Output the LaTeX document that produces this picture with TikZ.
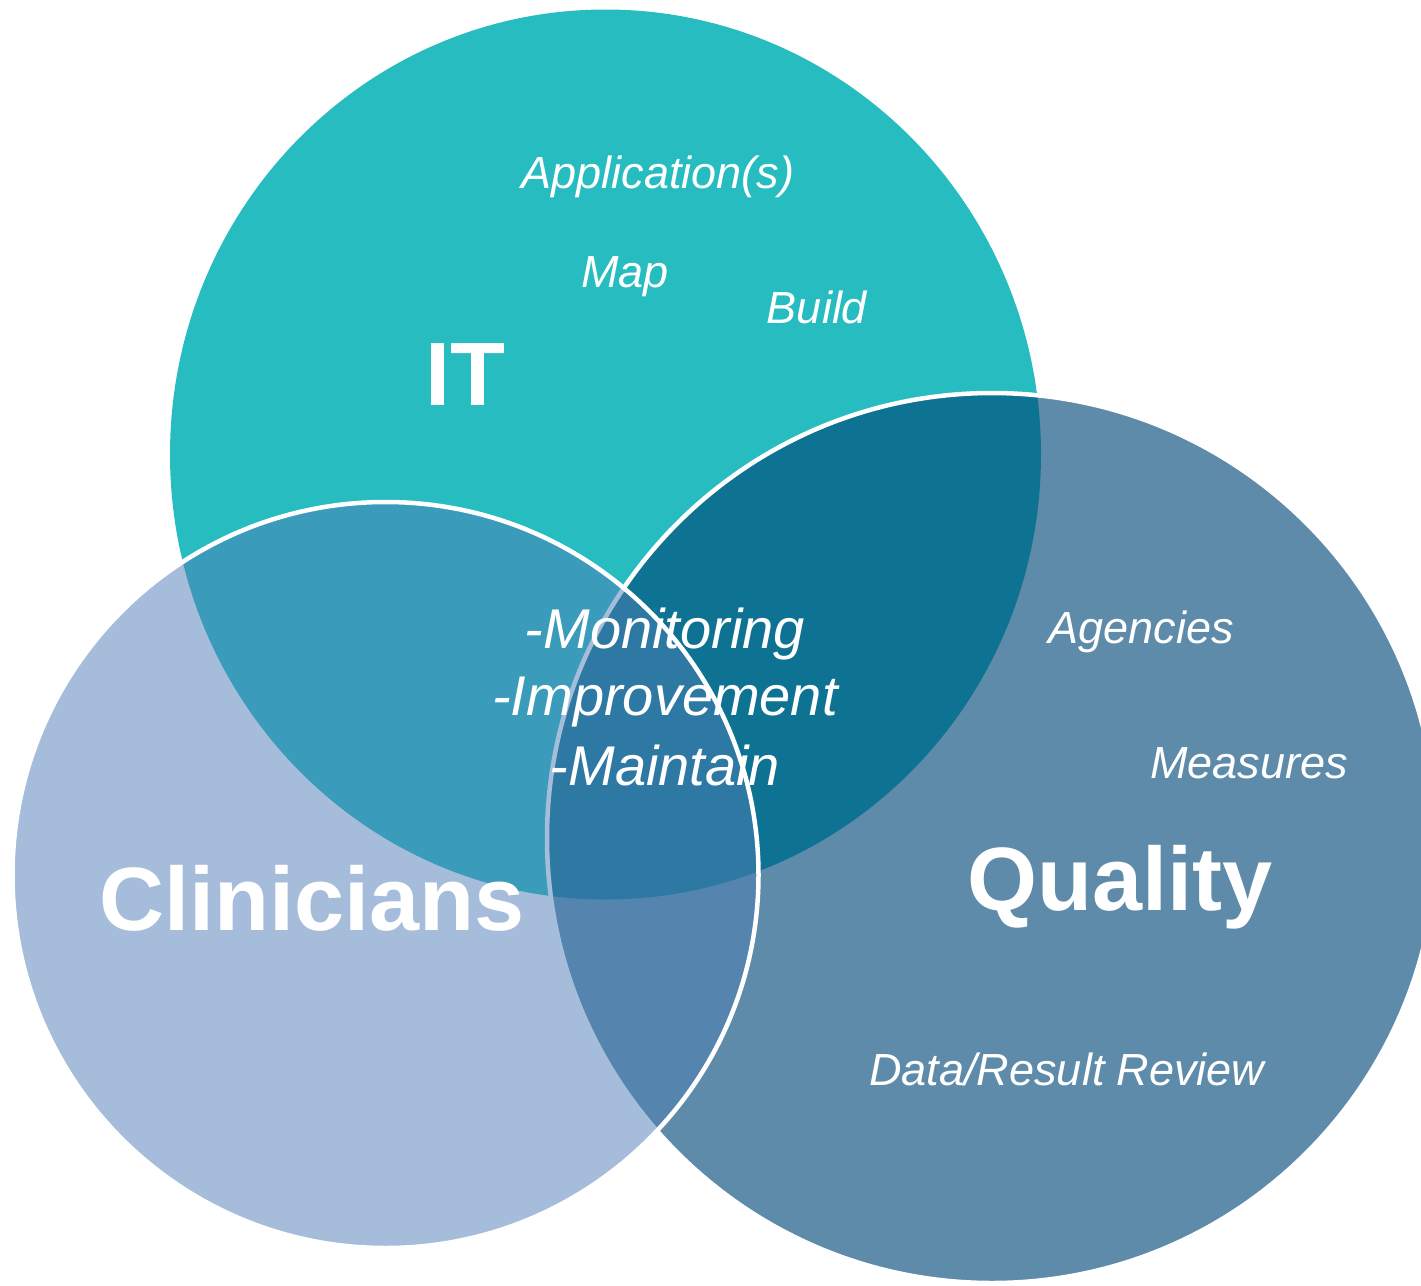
\documentclass[tikz,border=0pt]{standalone}
\usepackage{fontspec}
\setmainfont{Liberation Sans}
\definecolor{itteal}{RGB}{38,188,192}
\definecolor{qualblue}{RGB}{0,71,120}
\definecolor{clinblue}{RGB}{78,126,182}
\begin{document}
\begin{tikzpicture}[x=1pt,y=-1pt,
  ring/.style={draw=white, line width=4.5pt},
  title/.style={text=white, font=\bfseries\fontsize{90}{100}\selectfont, anchor=base, inner sep=0pt},
  item/.style={text=white, font=\itshape\fontsize{45}{54}\selectfont, anchor=base, inner sep=0pt},
  core/.style={text=white, font=\itshape\fontsize{56}{66}\selectfont, anchor=base, inner sep=0pt}]
\useasboundingbox (0,0) rectangle (1421,1285);
\begin{scope}
  \clip (0,0) rectangle (1421,1285);
  % IT set (opaque, no outline)
  \fill[itteal] (605.5,454.5) ellipse [x radius=435.5, y radius=445];
  % Quality set
  \filldraw[ring, fill=qualblue, fill opacity=0.63] (992,838) circle [radius=445];
  % Clinicians set
  \filldraw[ring, fill=clinblue, fill opacity=0.51] (385.5,875) circle [radius=373];
\end{scope}
% set titles
\node[title] (it)   at (465,405)  {IT};
\node[title] (clin) at (312,930)  {Clinicians};
\node[title] (qual) at (1120,910) {Quality};
% IT items
\node[item] (app)   at (658,188)  {Application(s)};
\node[item] (map)   at (625,287)  {Map};
\node[item] (build) at (817,323)  {Build};
% Quality items
\node[item] (agen)  at (1141,643) {Agencies};
\node[item] (meas)  at (1249,778) {Measures};
\node[item] (data)  at (1067,1085) {Data/Result Review};
% shared centre
\node[core] (mon) at (665,648) {-Monitoring};
\node[core] (imp) at (665,715) {-Improvement};
\node[core] (mai) at (665,785) {-Maintain};
\end{tikzpicture}
\end{document}
